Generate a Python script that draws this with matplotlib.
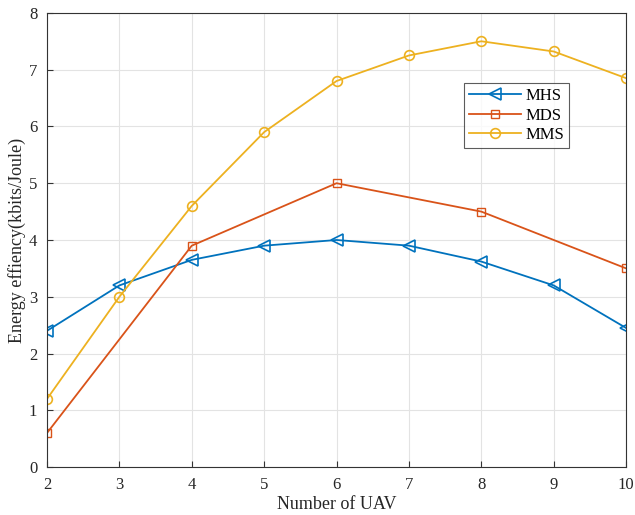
import matplotlib
matplotlib.use("Agg")
import matplotlib.pyplot as plt

plt.rcParams['font.family'] = ['Liberation Serif', 'DejaVu Serif']

uav = [2, 3, 4, 5, 6, 7, 8, 9, 10]
mhs = [2.4, 3.2, 3.65, 3.9, 4.0, 3.9, 3.62, 3.2, 2.45]
uav_mds = [2, 4, 6, 8, 10]
mds = [0.6, 3.9, 5.0, 4.5, 3.5]
mms = [1.2, 3.0, 4.6, 5.9, 6.8, 7.25, 7.5, 7.32, 6.85]

fig = plt.figure(figsize=(6.35, 5.15), dpi=100)
ax = fig.add_axes([0.074, 0.093, 0.912, 0.882])

ax.plot(uav, mhs, color="#0072BD", marker="<", markersize=8, markerfacecolor="none",
        markeredgewidth=1.2, linewidth=1.3, label="MHS")
ax.plot(uav_mds, mds, color="#D95319", marker="s", markersize=6, markerfacecolor="none",
        markeredgewidth=1.0, linewidth=1.3, label="MDS")
ax.plot(uav, mms, color="#EDB120", marker="o", markersize=7, markerfacecolor="none",
        markeredgewidth=1.2, linewidth=1.3, label="MMS")

ax.set_xlim(2, 10)
ax.set_ylim(0, 8)
ax.set_xticks(uav)
ax.set_yticks(range(0, 9))
ax.grid(True, color="#e3e3e3", linewidth=0.8)
ax.set_axisbelow(True)
ax.tick_params(direction="in", labelsize=12, length=4, color="#333333", labelcolor="#262626", pad=7)
for s in ax.spines.values():
    s.set_color("#333333")
    s.set_linewidth(0.8)

ax.set_xlabel("Number of UAV", fontsize=13, labelpad=2, color="#262626")
ax.set_ylabel("Energy effiency(kbits/Joule)", fontsize=13, labelpad=2, color="#262626")

leg = ax.legend(loc="upper left", bbox_to_anchor=(0.72, 0.845), fontsize=12, frameon=True,
                fancybox=False, edgecolor="#333333", handlelength=3.1, borderpad=0.3,
                labelspacing=0.2, handletextpad=0.3, borderaxespad=0)
leg.get_frame().set_linewidth(0.8)

fig.savefig("out.png", dpi=100)
